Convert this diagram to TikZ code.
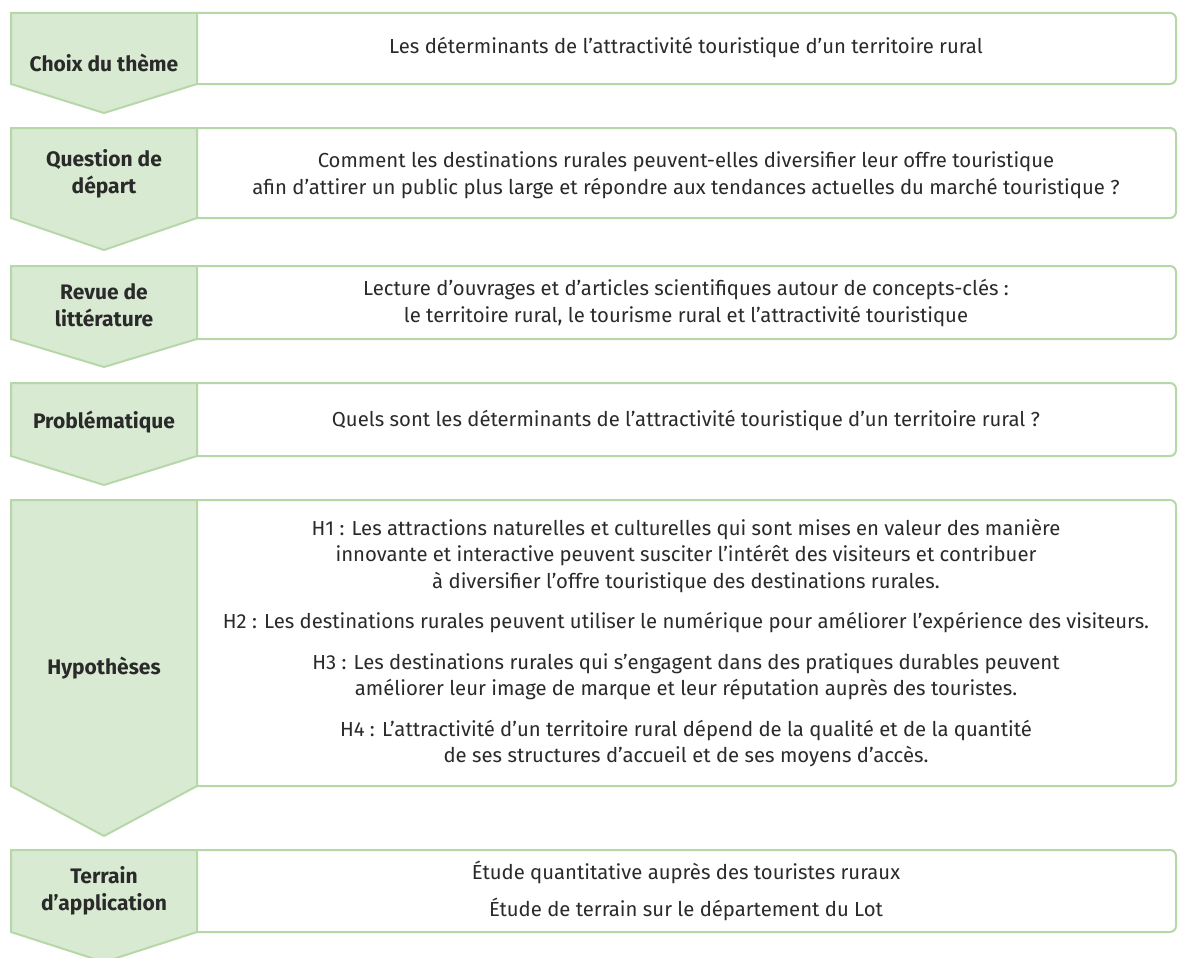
\documentclass[tikz,border=0pt]{standalone}
\usepackage{fontspec}
\setmainfont{Fira Sans}
\usepackage{tikz}
\definecolor{vertclair}{HTML}{D9EAD3}
\definecolor{vertbord}{HTML}{B6D7A8}
\definecolor{texte}{HTML}{2A2A2A}

\begin{document}
\begin{tikzpicture}[x=1pt,y=-1pt,
  boite/.style={draw=vertbord,line width=2pt,rounded corners=6pt,fill=white},
  fleche/.style={draw=vertbord,line width=2pt,fill=vertclair,line join=miter},
  etiq/.style={font=\fontsize{21}{27}\selectfont\bfseries,text=texte,align=center},
  txt/.style={font=\fontsize{20.3}{26.5}\selectfont,text=texte,align=center}]
\useasboundingbox (0,0) rectangle (1178,958);

% choix du theme
\draw[boite] (190,13) rectangle (1176,84);
\draw[fleche] (11,13) -- (197,13) -- (197,84) -- (104,113) -- (11,84) -- cycle;
\node[etiq] (choix) at (104,63) {Choix du thème};
\node[txt] (choixtxt) at (686,48) {Les déterminants de l’attractivité touristique d’un territoire rural};

% question de depart
\draw[boite] (190,128) rectangle (1176,218);
\draw[fleche] (11,128) -- (197,128) -- (197,218) -- (104,250) -- (11,218) -- cycle;
\node[etiq] (question) at (104,174) {Question de\\départ};
\node[txt] (questiontxt) at (686,175) {Comment les destinations rurales peuvent-elles diversifier leur offre touristique\\afin d’attirer un public plus large et répondre aux tendances actuelles du marché touristique ?};

% revue de litterature
\draw[boite] (190,266) rectangle (1176,339);
\draw[fleche] (11,266) -- (197,266) -- (197,339) -- (104,367) -- (11,339) -- cycle;
\node[etiq] (revue) at (104,305) {Revue de\\littérature};
\node[txt] (revuetxt) at (686,303) {Lecture d’ouvrages et d’articles scientifiques autour de concepts-clés :\\le territoire rural, le tourisme rural et l’attractivité touristique};

% problematique
\draw[boite] (190,383) rectangle (1176,456);
\draw[fleche] (11,383) -- (197,383) -- (197,456) -- (104,485) -- (11,456) -- cycle;
\node[etiq] (probleme) at (104,422) {Problématique};
\node[txt] (problemetxt) at (686,421) {Quels sont les déterminants de l’attractivité touristique d’un territoire rural ?};

% hypotheses
\draw[boite] (190,500) rectangle (1176,786);
\draw[fleche] (11,500) -- (197,500) -- (197,786) -- (104,836) -- (11,786) -- cycle;
\node[etiq] (hypo) at (104,668) {Hypothèses};
\node[txt] (hypotxt) at (686,643) {H1 : Les attractions naturelles et culturelles qui sont mises en valeur des manière\\innovante et interactive peuvent susciter l’intérêt des visiteurs et contribuer\\à diversifier l’offre touristique des destinations rurales.\\[14pt]H2 : Les destinations rurales peuvent utiliser le numérique pour améliorer l’expérience des visiteurs.\\[14pt]H3 : Les destinations rurales qui s’engagent dans des pratiques durables peuvent\\améliorer leur image de marque et leur réputation auprès des touristes.\\[14pt]H4 : L’attractivité d’un territoire rural dépend de la qualité et de la quantité\\de ses structures d’accueil et de ses moyens d’accès.};

% terrain
\draw[boite] (190,850) rectangle (1176,932);
\draw[fleche] (11,850) -- (197,850) -- (197,932) -- (104,962) -- (11,932) -- cycle;
\node[etiq] (terrain) at (104,891) {Terrain\\d’application};
\node[txt] (terraintxt) at (686,891) {Étude quantitative auprès des touristes ruraux\\[10pt]Étude de terrain sur le département du Lot};
\end{tikzpicture}
\end{document}
